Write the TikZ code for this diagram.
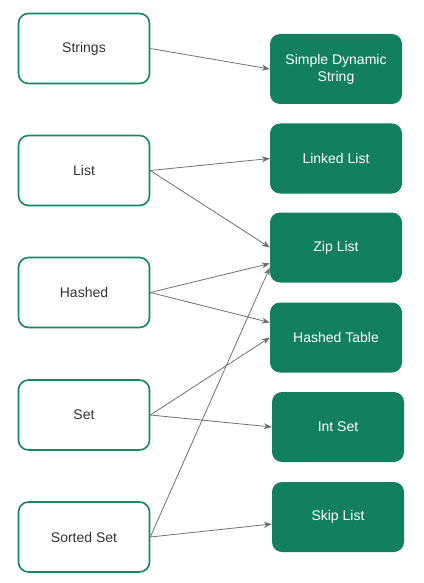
\documentclass[tikz,border=0pt]{standalone}
\usepackage{fontspec}
\setmainfont{Liberation Sans}
\usetikzlibrary{arrows.meta,calc}
\definecolor{boxgreen}{HTML}{12805F}
\definecolor{edgegreen}{HTML}{16875F}
\definecolor{arrowgray}{HTML}{707070}
\begin{document}
\begin{tikzpicture}[x=1pt,y=-1pt,
  srcbox/.style={draw=edgegreen,line width=1.6pt,fill=white,rounded corners=10pt,
    minimum width=131pt,minimum height=70pt,inner sep=0pt,
    font=\fontsize{14}{17}\selectfont,text=black!80},
  dstbox/.style={fill=boxgreen,draw=none,rounded corners=10pt,
    minimum width=132pt,minimum height=70pt,inner sep=0pt,align=center,
    font=\fontsize{14}{17}\selectfont,text=white},
  conn/.style={draw=arrowgray,line width=0.8pt,-{Stealth[length=8pt,width=6pt,inset=2.5pt]}}]
\useasboundingbox (0,0) rectangle (423,583);
% sources
\node[srcbox] (str) at (84,48.5) {Strings};
\node[srcbox] (lst) at (84,170.5) {List};
\node[srcbox] (hsh) at (84,292.5) {Hashed};
\node[srcbox] (set) at (84,415) {Set};
\node[srcbox] (sset) at (84,537) {Sorted Set};
% targets
\node[dstbox] (sds) at (336,69) {Simple Dynamic\\String};
\node[dstbox] (ll) at (336,158.5) {Linked List};
\node[dstbox] (zl) at (336,247.5) {Zip List};
\node[dstbox] (ht) at (336,337.5) {Hashed Table};
\node[dstbox] (is) at (338,427) {Int Set};
\node[dstbox] (sl) at (338,517) {Skip List};
% connectors
\draw[conn] (str.east) -- (sds.west);
\draw[conn] (lst.east) -- (ll.west);
\draw[conn] (lst.east) -- (zl.west);
\draw[conn] (hsh.east) -- ($(zl.west)+(0,16)$);
\draw[conn] (hsh.east) -- ($(ht.west)+(0,-15)$);
\draw[conn] (set.east) -- (ht.west);
\draw[conn] (set.east) -- (is.west);
\draw[conn] (sset.east) -- ($(zl.west)+(0,20)$);
\draw[conn] (sset.east) -- ($(sl.west)+(0,7)$);
\end{tikzpicture}
\end{document}
